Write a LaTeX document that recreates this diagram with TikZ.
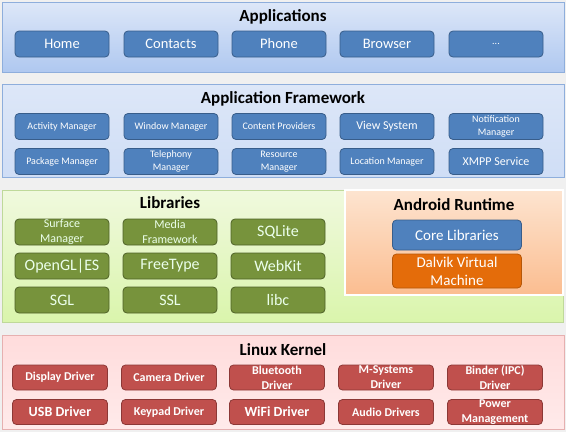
\documentclass[tikz,border=0pt]{standalone}
\usepackage{fontspec}
\setmainfont{Carlito}
\definecolor{bgray}{HTML}{F0F0F0}
\definecolor{blueface}{HTML}{4F81BD}
\definecolor{bluedark}{HTML}{385D8A}
\definecolor{bluetop}{HTML}{DDE7F8}
\definecolor{bluebot}{HTML}{AFC8F0}
\definecolor{blueline}{HTML}{8EAEDC}
\definecolor{greenface}{HTML}{77933C}
\definecolor{greendark}{HTML}{4F6228}
\definecolor{greentop}{HTML}{F0F9DE}
\definecolor{greenbot}{HTML}{DAF5AC}
\definecolor{greenline}{HTML}{BFD99A}
\definecolor{orangeface}{HTML}{E46C0A}
\definecolor{orangedark}{HTML}{B65708}
\definecolor{orangetop}{HTML}{FDE4D0}
\definecolor{orangebot}{HTML}{FBBD90}
\definecolor{redface}{HTML}{C0504D}
\definecolor{reddark}{HTML}{8C3836}
\definecolor{redtop}{HTML}{FFDCDC}
\definecolor{redbot}{HTML}{FFEAEA}
\definecolor{redline}{HTML}{E6B0B0}
\begin{document}
\begin{tikzpicture}[x=1pt,y=-1pt,
  bluebox/.style={draw=bluedark, fill=blueface, line width=0.8pt, rounded corners=4pt, minimum width=94pt, minimum height=26pt, inner sep=0pt, text=white, align=center},
  greenbox/.style={bluebox, draw=greendark, fill=greenface, text=white!92!green},
  redbox/.style={bluebox, draw=reddark, fill=redface, minimum width=95pt, minimum height=25pt},
  title/.style={font=\fontsize{17}{19}\selectfont\bfseries},
  big/.style={font=\fontsize{14.5}{16}\selectfont},
  lbig/.style={font=\fontsize{16}{18}\selectfont},
  lsmall/.style={font=\fontsize{12}{14.5}\selectfont},
  mid/.style={font=\fontsize{12}{14}\selectfont},
  small/.style={font=\fontsize{10}{12.5}\selectfont},
  kbig/.style={font=\fontsize{14}{15}\selectfont\bfseries},
  ksmall/.style={font=\fontsize{12}{15}\selectfont\bfseries}]
\useasboundingbox (0,0) rectangle (566,432);
\fill[bgray] (0,0) rectangle (566,432);
\draw[draw=blueline, line width=0.8pt, top color=bluetop, bottom color=bluebot] (2,2) rectangle (564,72);
\draw[draw=blueline, line width=0.8pt, top color=bluetop, bottom color=bluetop!70!bluebot] (2,84) rectangle (564,177);
\draw[draw=greenline, line width=0.8pt, top color=greentop, bottom color=greenbot] (2,190) rectangle (563,322);
\draw[draw=white, line width=1.6pt, top color=orangetop, bottom color=orangebot] (345,190) rectangle (563,295);
\draw[draw=redline, line width=0.8pt, top color=redtop, bottom color=redbot] (2,335) rectangle (564,429);

\node[title] (apps) at (283,17) {Applications};
\node[bluebox,big] (home) at (62,44) {Home};
\node[bluebox,big] (contacts) at (171,44) {Contacts};
\node[bluebox,big] (phone) at (279,44) {Phone};
\node[bluebox,big] (browser) at (387,44) {Browser};
\node[bluebox,small] (more) at (496,44) {...};

\node[title] (frame) at (283,99) {Application Framework};
\node[bluebox,small] (activity) at (62,126.5) {Activity Manager};
\node[bluebox,small] (window) at (171,126.5) {Window Manager};
\node[bluebox,small] (content) at (279,126.5) {Content Providers};
\node[bluebox,mid] (view) at (387,126.5) {View System};
\node[bluebox,small] (notify) at (496,126.5) {Notification\\Manager};
\node[bluebox,small] (package) at (62,161.5) {Package Manager};
\node[bluebox,small] (telephony) at (171,161.5) {Telephony\\Manager};
\node[bluebox,small] (resource) at (279,161.5) {Resource\\Manager};
\node[bluebox,small] (location) at (387,161.5) {Location Manager};
\node[bluebox,mid] (xmpp) at (496,161.5) {XMPP Service};

\node[title] (libs) at (170,203) {Libraries};
\node[greenbox,lsmall] (surface) at (62,232) {Surface\\Manager};
\node[greenbox,lsmall] (media) at (170,232) {Media\\Framework};
\node[greenbox,lbig] (sqlite) at (278,232) {SQLite};
\node[greenbox,lbig] (opengl) at (62,266) {OpenGL|ES};
\node[greenbox,lbig] (freetype) at (170,266) {FreeType};
\node[greenbox,lbig] (webkit) at (278,266) {WebKit};
\node[greenbox,lbig] (sgl) at (62,300) {SGL};
\node[greenbox,lbig] (ssl) at (170,300) {SSL};
\node[greenbox,lbig] (libc) at (278,300) {libc};

\node[title] (runtime) at (454,205) {Android Runtime};
\node[bluebox,font=\fontsize{15}{17}\selectfont,minimum width=129pt,minimum height=30pt] (core) at (457,235) {Core Libraries};
\node[bluebox,font=\fontsize{15}{18}\selectfont,draw=orangedark,fill=orangeface,minimum width=129pt,minimum height=34pt] (dalvik) at (457,271) {Dalvik Virtual\\Machine};

\node[title] (kernel) at (283,350) {Linux Kernel};
\node[redbox,ksmall] (display) at (60,377.5) {Display Driver};
\node[redbox,ksmall] (camera) at (169,377.5) {Camera Driver};
\node[redbox,ksmall] (bluetooth) at (277,377.5) {Bluetooth\\Driver};
\node[redbox,ksmall] (msys) at (386,377.5) {M-Systems\\Driver};
\node[redbox,ksmall] (binder) at (495,377.5) {Binder (IPC)\\Driver};
\node[redbox,kbig] (usb) at (60,412) {USB Driver};
\node[redbox,ksmall] (keypad) at (169,412) {Keypad Driver};
\node[redbox,kbig] (wifi) at (277,412) {WiFi Driver};
\node[redbox,ksmall] (audio) at (386,412) {Audio Drivers};
\node[redbox,ksmall] (power) at (495,412) {Power\\Management};
\end{tikzpicture}
\end{document}
